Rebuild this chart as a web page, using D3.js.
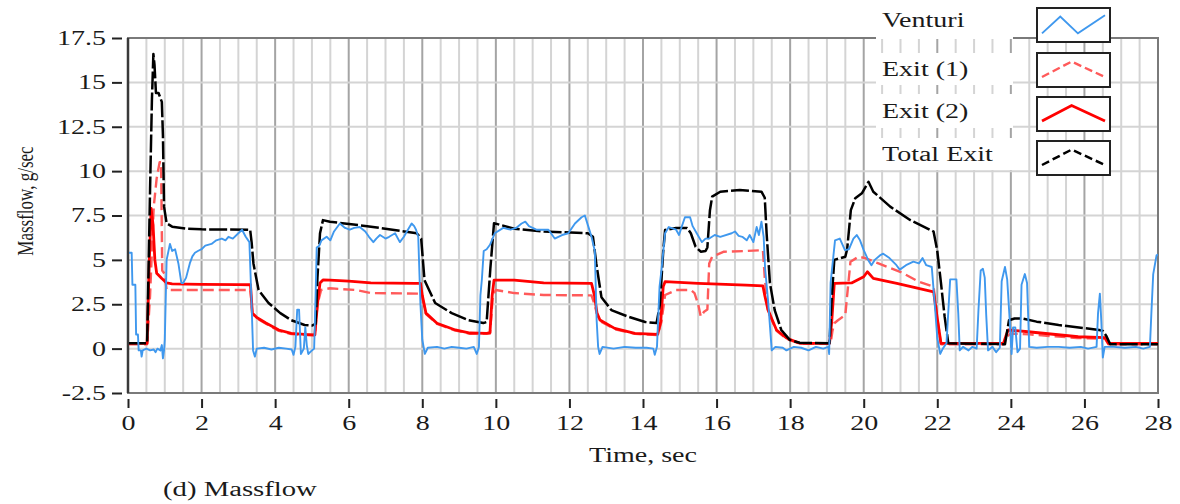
<!DOCTYPE html>
<html>
<head>
<meta charset="utf-8">
<script src="https://cdn.jsdelivr.net/npm/d3@7"></script>
<style>
body{margin:0;background:#fff;}
svg text{font-family:"Liberation Serif","DejaVu Serif",serif;fill:#1a1a1a;}
</style>
</head>
<body>
<div id="chart"></div>
<script>

// tick values
const xTicks=[0,2,4,6,8,10,12,14,16,18,20,22,24,26,28];
const yTicks=[-2.5,0,2.5,5,7.5,10,12.5,15,17.5];

// series: [time sec, massflow g/sec]
const venturi=[[0,5.4],[0.1,5.4],[0.12,3.6],[0.2,3.6],[0.22,0.8],[0.27,0.8],[0.29,-0.1],[0.35,-0.1],[0.37,-0.45],[0.4,-0.1],[0.5,0],[0.6,-0.1],[0.7,-0.05],[0.75,-0.2],[0.8,0],[0.88,-0.1],[0.92,0.2],[0.95,-0.55],[0.98,-0.1],[1,0.5],[1.05,5],[1.14,5.9],[1.2,5.5],[1.28,5.6],[1.37,4.8],[1.45,3.7],[1.5,3.7],[1.58,4],[1.68,4.8],[1.75,5.2],[1.82,5.4],[1.9,5.5],[2,5.6],[2.1,5.8],[2.27,5.9],[2.4,6.1],[2.55,6.2],[2.65,6.1],[2.73,6.3],[2.85,6.2],[3,6.5],[3.1,6.7],[3.2,6.3],[3.3,6],[3.36,2.5],[3.4,-0.1],[3.45,-0.45],[3.5,0],[3.7,0.05],[3.9,-0.05],[4.1,0.05],[4.3,0],[4.45,-0.05],[4.5,-0.35],[4.55,0.1],[4.6,2.2],[4.65,2.2],[4.7,-0.3],[4.78,0],[4.82,1.2],[4.86,0.2],[4.9,-0.3],[5,-0.1],[5.06,0],[5.1,3],[5.13,5.7],[5.2,5.8],[5.26,6.1],[5.4,6.3],[5.5,6.1],[5.6,6.6],[5.76,7.05],[5.9,6.8],[6.03,6.7],[6.15,6.8],[6.3,6.85],[6.45,6.6],[6.55,6.3],[6.67,6],[6.75,6.2],[6.85,6.4],[7,6.2],[7.1,6.3],[7.26,6.5],[7.39,6],[7.5,6.3],[7.58,6.6],[7.71,7.05],[7.78,6.9],[7.83,6.7],[7.89,6.3],[7.95,2.5],[8,0.5],[8.07,-0.3],[8.15,0.05],[8.4,0.1],[8.6,0],[8.8,0.1],[9,0.05],[9.2,0],[9.4,0.1],[9.48,-0.3],[9.54,0.1],[9.58,3],[9.62,3.9],[9.67,5.5],[9.75,5.6],[9.84,5.85],[9.97,6.5],[10.2,6.8],[10.4,6.7],[10.55,6.8],[10.7,7.05],[10.8,7.15],[10.9,6.9],[11.1,6.7],[11.43,6.7],[11.6,6.2],[11.8,6.4],[11.97,6.5],[12.15,7.05],[12.33,7.4],[12.42,7.5],[12.51,6.9],[12.6,6.3],[12.69,5.5],[12.74,1.6],[12.78,0.1],[12.82,-0.3],[12.9,0.1],[13.2,0],[13.5,0.1],[13.8,0.05],[14.1,0.05],[14.28,0],[14.32,-0.35],[14.38,0.1],[14.45,3.5],[14.5,4.4],[14.6,6.5],[14.7,6.85],[14.9,6.7],[14.98,6.4],[15.05,6.85],[15.14,7.4],[15.28,7.4],[15.35,6.9],[15.46,6.5],[15.6,6],[15.7,6.2],[15.8,6.2],[15.95,6.4],[16.1,6.3],[16.41,6.5],[16.5,6.6],[16.6,6.35],[16.7,6.3],[16.82,6.1],[16.9,6.4],[17,6],[17.09,6.85],[17.15,6.4],[17.22,7.15],[17.28,6.3],[17.32,4.5],[17.4,2.7],[17.5,-0.1],[17.6,0.1],[17.8,0.05],[17.9,-0.1],[18.1,0.1],[18.3,0.05],[18.5,-0.1],[18.7,0.1],[18.9,0],[19.04,0.1],[19.06,-0.3],[19.1,3.7],[19.22,6.1],[19.35,6.2],[19.49,5.55],[19.6,5.6],[19.72,6.2],[19.81,6.4],[19.9,6.1],[20,5.55],[20.12,5],[20.21,4.7],[20.3,5],[20.44,5.25],[20.53,5.35],[20.7,5.1],[20.89,4.7],[20.98,4.45],[21.15,4.7],[21.35,4.9],[21.5,4.8],[21.6,5.1],[21.7,4.7],[21.85,4.6],[21.95,2],[22,0.6],[22.08,-0.3],[22.15,0],[22.25,0.3],[22.35,3.9],[22.52,3.9],[22.57,2],[22.61,-0.1],[22.7,0.1],[22.85,-0.1],[22.95,0.1],[23.07,0],[23.12,2.2],[23.18,4.4],[23.24,4.5],[23.29,4],[23.33,1.9],[23.38,-0.1],[23.5,0.1],[23.6,-0.2],[23.7,0.05],[23.75,3.8],[23.84,4.6],[23.9,3.9],[23.96,1.9],[24.02,-0.3],[24.06,1.2],[24.12,1.2],[24.18,-0.2],[24.25,0],[24.29,3.6],[24.38,4.2],[24.44,3.7],[24.5,0.1],[24.7,0.05],[25,0.1],[25.3,0.1],[25.6,0.05],[25.9,0.1],[26.1,0],[26.33,0.1],[26.37,2],[26.42,3.1],[26.46,1.5],[26.5,-0.5],[26.55,0.1],[26.8,0.1],[27.1,0.05],[27.4,0.1],[27.6,0],[27.78,0.1],[27.82,2],[27.87,4.2],[27.96,5.25],[28,5.3]];

const exit1=[[0,0.25],[0.52,0.25],[0.6,3],[0.7,8],[0.78,9.6],[0.86,10.5],[0.9,10.5],[0.93,4.4],[1,4.2],[1.05,3.3],[1.5,3.3],[3.33,3.3],[3.38,2],[3.5,1.7],[3.75,1.4],[4.1,1],[4.44,0.82],[5.08,0.74],[5.15,2.5],[5.25,3.3],[5.49,3.4],[6.2,3.3],[6.6,3.13],[7.9,3.1],[8,2.9],[8.1,1.95],[8.4,1.4],[8.9,1.02],[9.3,0.84],[9.84,0.85],[9.92,3],[10,3.3],[10.5,3.13],[11.3,3.02],[12.6,3],[12.68,2.5],[12.75,1.95],[12.83,1.55],[13.23,1.1],[13.78,0.83],[14.4,0.77],[14.5,1.5],[14.6,3.02],[14.9,3.3],[15.3,3.3],[15.4,3.13],[15.5,2.5],[15.57,1.8],[15.66,2.08],[15.75,2.2],[15.8,4.8],[15.88,5.18],[16.2,5.46],[16.8,5.5],[17.26,5.55],[17.31,4],[17.4,2.1],[17.63,1],[17.9,0.55],[18.26,0.28],[19.1,0.28],[19.15,1],[19.2,1.43],[19.3,1.6],[19.5,1.89],[19.55,3],[19.64,4.9],[19.86,5.18],[20.04,5.1],[20.4,4.8],[20.99,4.33],[21.5,3.77],[21.9,3.49],[21.98,2],[22.1,0.25],[23.8,0.25],[23.9,0.7],[24,0.85],[24.5,0.8],[25.8,0.6],[26.56,0.55],[26.65,0.25],[28,0.25]];

const exit2=[[0,0.3],[0.52,0.3],[0.58,5],[0.63,7.9],[0.68,7],[0.73,5],[0.78,4.25],[0.92,3.95],[1.05,3.7],[1.2,3.65],[2,3.62],[3,3.6],[3.33,3.6],[3.38,2],[3.5,1.75],[3.75,1.44],[4.1,1.05],[4.44,0.86],[4.8,0.8],[5.08,0.77],[5.15,2.5],[5.22,3.7],[5.3,3.87],[5.49,3.86],[6,3.8],[6.6,3.7],[7.8,3.68],[7.95,3.68],[8,3],[8.1,2],[8.4,1.43],[8.9,1.05],[9.3,0.88],[9.75,0.86],[9.84,0.9],[9.9,3],[9.95,3.86],[10.5,3.86],[11.3,3.7],[12.6,3.68],[12.68,3],[12.75,2],[12.83,1.61],[13.23,1.14],[13.78,0.86],[14.4,0.8],[14.48,1.5],[14.55,3.5],[14.6,3.77],[15.5,3.68],[16.8,3.58],[17.26,3.53],[17.31,3],[17.4,2.17],[17.63,1.05],[17.9,0.6],[18.26,0.3],[19.07,0.3],[19.13,1.5],[19.2,3.68],[19.67,3.7],[20,4.05],[20.1,4.33],[20.26,3.96],[20.9,3.68],[21.9,3.2],[21.98,2],[22.1,0.3],[23.8,0.3],[23.88,0.8],[23.93,1.05],[24.47,0.95],[25.83,0.67],[26.56,0.62],[26.65,0.3],[28,0.3]];

const totalExit=[[0,0.3],[0.52,0.3],[0.6,9],[0.65,14],[0.69,16.6],[0.72,16],[0.76,14.4],[0.83,14.4],[0.92,13.9],[0.95,12],[0.98,8],[1.05,7.06],[1.2,6.87],[1.6,6.75],[2,6.72],[3.32,6.7],[3.36,6],[3.41,4.8],[3.55,3.3],[3.82,2.57],[4.14,2],[4.44,1.6],[4.8,1.33],[5,1.3],[5.1,1.4],[5.15,4],[5.22,6.5],[5.3,7.24],[5.49,7.15],[6.5,6.9],[7.85,6.5],[7.97,6.2],[8.06,3.86],[8.35,2.57],[8.8,2],[9.26,1.6],[9.66,1.44],[9.75,1.5],[9.85,4.5],[9.95,7.07],[10.5,6.75],[11.3,6.6],[12.5,6.5],[12.64,6.3],[12.73,4.8],[12.87,2.9],[13.14,2.17],[13.6,1.8],[14.06,1.5],[14.37,1.44],[14.46,2.5],[14.55,5.5],[14.6,6.68],[14.9,6.8],[15.2,6.8],[15.3,6.5],[15.43,5.74],[15.57,5.46],[15.7,5.5],[15.75,5.7],[15.82,7.8],[15.88,8.56],[16.1,8.84],[16.63,8.93],[17.22,8.84],[17.31,8.5],[17.36,6.5],[17.45,3.7],[17.58,2.17],[17.76,1.05],[17.99,0.49],[18.26,0.33],[19.07,0.3],[19.12,2.5],[19.2,5],[19.5,5.18],[19.55,5.6],[19.65,7.8],[19.77,8.47],[19.95,8.75],[20.13,9.4],[20.26,8.84],[20.72,8],[21.26,7.25],[21.9,6.59],[22,5.5],[22.1,3.7],[22.2,1.8],[22.3,0.3],[23.84,0.25],[23.9,1],[23.95,1.6],[24.1,1.7],[24.3,1.7],[24.7,1.52],[25.3,1.33],[26.4,1.05],[26.5,1],[26.6,0.7],[26.7,0.25],[28,0.25]];

const seriesNames=["Venturi","Exit (1)","Exit (2)","Total Exit"];


const width=1180;
const height=504;

// the original figure is stretched sideways, so the text is too
const stretchX=1.4;

function stretch(sel){
sel.each(function(){
const w=this.getComputedTextLength();
d3.select(this)
.attr("textLength",w*stretchX)
.attr("lengthAdjust","spacingAndGlyphs");
});
}

const svg=d3.select("#chart")
.append("svg")
.attr("width",width)
.attr("height",height);

const x=d3.scaleLinear().domain([0,28]).range([128,1158]);
const y=d3.scaleLinear().domain([-2.5,17.5]).range([393,38]);


// GRID
const minorX=d3.range(0,28.01,0.5);

svg.append("g")
.selectAll("line")
.data(minorX)
.enter()
.append("line")
.attr("x1",d=>x(d))
.attr("x2",d=>x(d))
.attr("y1",y(17.5))
.attr("y2",y(-2.5))
.attr("stroke",d=>d%2===0?"#a4a4a4":"#d4d4d4")
.attr("stroke-width",2);

svg.append("g")
.selectAll("line")
.data(yTicks)
.enter()
.append("line")
.attr("x1",x(0))
.attr("x2",x(28))
.attr("y1",d=>y(d))
.attr("y2",d=>y(d))
.attr("stroke","#d4d4d4")
.attr("stroke-width",2);


// FRAME
svg.append("rect")
.attr("x",x(0))
.attr("y",y(17.5))
.attr("width",x(28)-x(0))
.attr("height",y(-2.5)-y(17.5))
.attr("fill","none")
.attr("stroke","#7a7a7a")
.attr("stroke-width",2);

svg.append("line")
.attr("x1",x(0)).attr("x2",x(0))
.attr("y1",y(17.5)).attr("y2",y(-2.5))
.attr("stroke","#3a3a3a")
.attr("stroke-width",2.5);


// AXES
const yAxis=svg.append("g")
.attr("transform","translate(122,0)")
.call(d3.axisLeft(y).tickValues(yTicks).tickFormat(d=>String(d)).tickSize(10).tickPadding(6));

const xAxis=svg.append("g")
.attr("transform","translate(0,399)")
.call(d3.axisBottom(x).tickValues(xTicks).tickFormat(d=>String(d)).tickSize(9).tickPadding(8));

[yAxis,xAxis].forEach(a=>{
a.select(".domain").remove();
a.selectAll(".tick line").attr("stroke","#222").attr("stroke-width",2);
a.selectAll(".tick text")
.style("font-family","'Liberation Serif',serif")
.style("font-size","20px")
.attr("fill","#1a1a1a")
.call(stretch);
});


// ETIQUETAS
svg.append("text")
.attr("transform","translate(33,201) scale("+stretchX+",1) rotate(-90)")
.attr("text-anchor","middle")
.style("font-size","17px")
.text("Massflow, g/sec");

svg.append("text")
.attr("x",643)
.attr("y",462)
.attr("text-anchor","middle")
.style("font-size","20px")
.text("Time, sec")
.call(stretch);

svg.append("text")
.attr("x",163)
.attr("y",496)
.style("font-size","20.5px")
.text("(d) Massflow")
.call(stretch);


// LINEAS
svg.append("clipPath")
.attr("id","plotclip")
.append("rect")
.attr("x",x(0)+1)
.attr("y",y(17.5))
.attr("width",x(28)-x(0)-1)
.attr("height",y(-2.5)-y(17.5));

const line=d3.line()
.x(d=>x(d[0]))
.y(d=>y(d[1]));

const styles=[
{color:"#3f98ee",width:1.9,dash:null},
{color:"#ff5a5a",width:2.4,dash:"11,5"},
{color:"#ff0000",width:2.8,dash:null},
{color:"#000000",width:2.5,dash:"18,3"}
];

const plot=svg.append("g").attr("clip-path","url(#plotclip)");

[[exit1,1],[exit2,2],[totalExit,3],[venturi,0]].forEach(([data,i])=>{
plot.append("path")
.datum(data)
.attr("d",line)
.attr("fill","none")
.attr("stroke",styles[i].color)
.attr("stroke-width",styles[i].width)
.attr("stroke-dasharray",styles[i].dash)
.attr("stroke-linejoin","round");
});


// LEYENDA
const legendRows=[
{top:0,bottom:39,box:8},
{top:53,bottom:85,box:53},
{top:94,bottom:128,box:97},
{top:138,bottom:170,box:141}
];

const swatchShapes=[
[[0,0.8],[0.29,0.2],[0.57,0.8],[1,0.15]],
[[0,0.75],[0.47,0.2],[1,0.75]],
[[0,0.75],[0.47,0.2],[1,0.75]],
[[0,0.75],[0.47,0.2],[1,0.75]]
];

const legend=svg.append("g");

legendRows.forEach((r,i)=>{

legend.append("rect")
.attr("x",876)
.attr("y",r.top)
.attr("width",137)
.attr("height",r.bottom-r.top)
.attr("fill","#fff");

legend.append("text")
.attr("x",882)
.attr("y",r.top+(r.bottom-r.top)/2+7)
.style("font-size","20px")
.text(seriesNames[i])
.call(stretch);

const bx=1037,bw=73,bh=34;

legend.append("rect")
.attr("x",bx)
.attr("y",r.box)
.attr("width",bw)
.attr("height",bh)
.attr("fill","#fff")
.attr("stroke","#222")
.attr("stroke-width",2);

legend.append("path")
.attr("d",d3.line()
.x(p=>bx+5+p[0]*(bw-10))
.y(p=>r.box+3+p[1]*(bh-6))(swatchShapes[i]))
.attr("fill","none")
.attr("stroke",styles[i].color)
.attr("stroke-width",styles[i].width)
.attr("stroke-dasharray",styles[i].dash?"8,4":null);

});

</script>
</body>
</html>
